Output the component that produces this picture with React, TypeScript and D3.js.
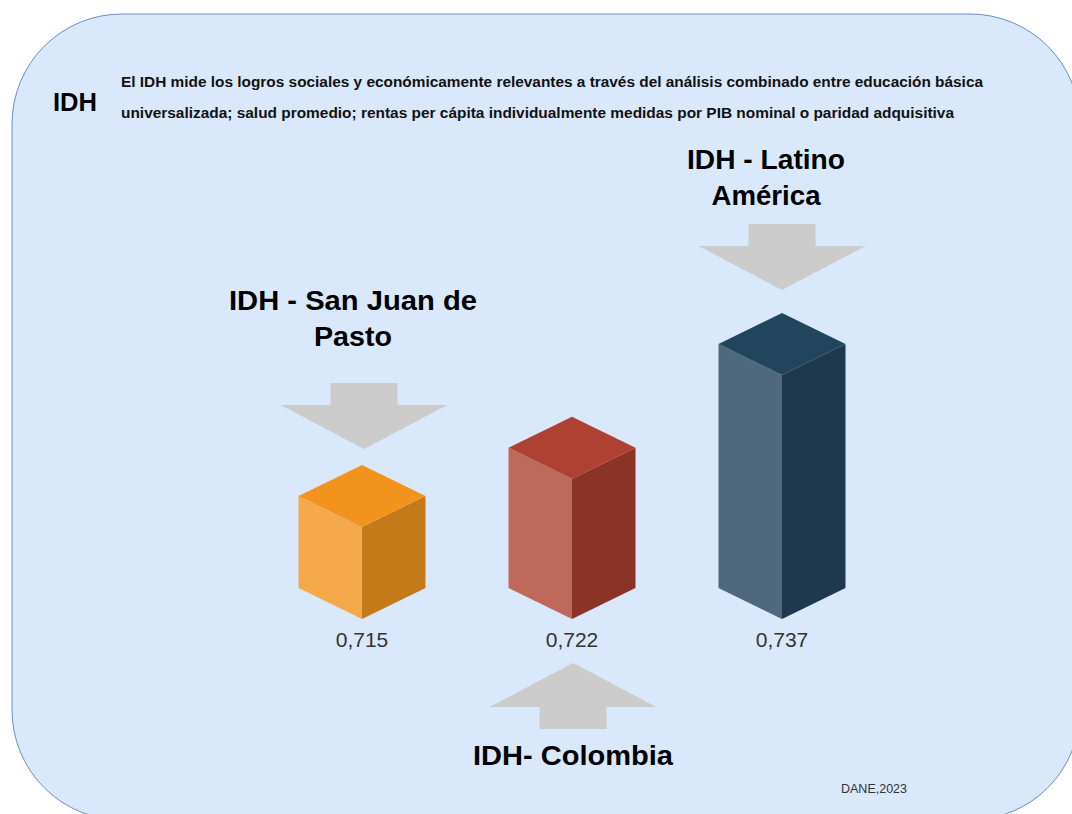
import React from "react";
import * as d3 from "d3";

const categories = ["IDH - San Juan de Pasto", "IDH- Colombia", "IDH - Latino América"];
const values = [0.715, 0.722, 0.737];
const valueLabels = ["0,715", "0,722", "0,737"];
const headingLines = [["IDH - San Juan de", "Pasto"], ["IDH- Colombia"], ["IDH - Latino", "América"]];
const arrowDirections = ["down", "up", "down"];
const topColors = ["#F2931E", "#AE4132", "#23445D"];
const leftColors = ["#F5A94B", "#BF695C", "#4E687D"];
const rightColors = ["#C47A18", "#8B3327", "#1E384D"];
const titleText = "IDH";
const descriptionLines = [
  "El IDH mide los logros sociales y económicamente relevantes a través del análisis combinado entre educación básica",
  "universalizada; salud promedio; rentas per cápita individualmente medidas por PIB nominal o paridad adquisitiva",
];
const sourceText = "DANE,2023";

const FONT = "'Liberation Sans', Arial, Helvetica, sans-serif";

export default function App() {
  const W = 1072;
  const H = 814;
  const baseY = 619;
  const halfW = 63.5;
  const depth = 31;

  const x = d3.scalePoint<string>().domain(categories).range([362, 782]);
  const h = d3.scaleLinear().domain([0.7017, 0.737]).range([0, 244]);

  // arrow geometry
  const shaftHalf = 33.5;
  const headHalf = 83.5;
  const headLen = 44;
  const shaftLen = 22;

  const arrowPath = (cx: number, tipY: number, dir: string) => {
    const s = dir === "down" ? -1 : 1;
    const pts: [number, number][] = [
      [cx, tipY],
      [cx + headHalf, tipY + s * headLen],
      [cx + shaftHalf, tipY + s * headLen],
      [cx + shaftHalf, tipY + s * (headLen + shaftLen)],
      [cx - shaftHalf, tipY + s * (headLen + shaftLen)],
      [cx - shaftHalf, tipY + s * headLen],
      [cx - headHalf, tipY + s * headLen],
    ];
    return d3.line()(pts.concat([pts[0]])) + "Z";
  };

  // per-annotation layout (gap between arrow tip and cube, heading offsets, measured widths)
  const annot = [
    { gap: 16, dx: 2, headX: -9, headBaselineFromArrowTop: -37, widths: [248, 78] },
    { gap: 0, dx: 1, headX: 1, headBaselineFromArrowTop: 0, widths: [200] },
    { gap: 23, dx: 0, headX: -16, headBaselineFromArrowTop: -19, widths: [158, 109] },
  ];
  const descWidths = [862, 833];

  return (
    <svg
      width={W}
      height={H}
      style={{ position: "absolute", left: 0, top: 0, display: "block" }}
      fontFamily={FONT}
    >
      <rect x={12} y={14} width={1068} height={806} rx={110} ry={110} fill="#dae8fc" stroke="#6c8ebf" strokeWidth={1} />
      <text x={53} y={111} fontSize={25} fontWeight="bold" fill="#000" textLength={44} lengthAdjust="spacingAndGlyphs">
        {titleText}
      </text>
      {descriptionLines.map((l, i) => (
        <text
          key={i}
          x={121}
          y={87 + i * 30.5}
          fontSize={14}
          fontWeight="bold"
          fill="#111"
          textLength={descWidths[i]}
          lengthAdjust="spacingAndGlyphs"
        >
          {l}
        </text>
      ))}

      {categories.map((c, i) => {
        const cx = x(c) as number;
        const hh = h(values[i]);
        const fTop = baseY - hh;
        const top = [
          [cx, fTop - 2 * depth],
          [cx + halfW, fTop - depth],
          [cx, fTop],
          [cx - halfW, fTop - depth],
        ];
        const left = [
          [cx - halfW, fTop - depth],
          [cx, fTop],
          [cx, baseY],
          [cx - halfW, baseY - depth],
        ];
        const right = [
          [cx, fTop],
          [cx + halfW, fTop - depth],
          [cx + halfW, baseY - depth],
          [cx, baseY],
        ];
        const poly = (p: number[][]) => p.map((d) => d.join(",")).join(" ");
        return (
          <g key={c}>
            <polygon points={poly(left)} fill={leftColors[i]} />
            <polygon points={poly(right)} fill={rightColors[i]} />
            <polygon points={poly(top)} fill={topColors[i]} />
            <text x={cx} y={647} textAnchor="middle" fontSize={21} fill="#333">
              {valueLabels[i]}
            </text>
          </g>
        );
      })}

      {categories.map((c, i) => {
        const cx = x(c) as number;
        const dir = arrowDirections[i];
        const a = annot[i];
        const cubeTop = baseY - h(values[i]) - 2 * depth;
        if (dir === "down") {
          const tipY = cubeTop - a.gap;
          const arrowTop = tipY - headLen - shaftLen;
          const n = headingLines[i].length;
          return (
            <g key={"a" + c}>
              <path d={arrowPath(cx + a.dx, tipY, dir)} fill="#cccccc" />
              {headingLines[i].map((l, j) => (
                <text
                  key={j}
                  x={cx + a.headX}
                  y={arrowTop + a.headBaselineFromArrowTop - (n - 1 - j) * 36.5}
                  textAnchor="middle"
                  fontSize={27}
                  fontWeight="bold"
                  fill="#000"
                  textLength={a.widths[j]}
                  lengthAdjust="spacingAndGlyphs"
                >
                  {l}
                </text>
              ))}
            </g>
          );
        }
        const tipY = 663;
        return (
          <g key={"a" + c}>
            <path d={arrowPath(cx + a.dx, tipY, dir)} fill="#cccccc" />
            <text
              x={cx + a.headX}
              y={765}
              textAnchor="middle"
              fontSize={27}
              fontWeight="bold"
              fill="#000"
              textLength={a.widths[0]}
              lengthAdjust="spacingAndGlyphs"
            >
              {headingLines[i][0]}
            </text>
          </g>
        );
      })}

      <text x={841} y={793} fontSize={12.5} fill="#333">
        {sourceText}
      </text>
    </svg>
  );
}
